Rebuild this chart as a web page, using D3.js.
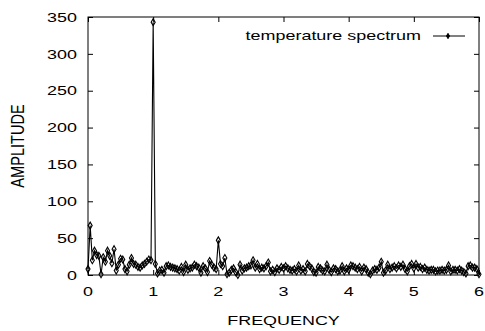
<!DOCTYPE html>
<html>
<head>
<meta charset="utf-8">
<script src="https://cdn.jsdelivr.net/npm/d3@7"></script>
<style>
  body { margin: 0; background: #fff; }
  text { font-family: "Liberation Sans", Arial, sans-serif; fill: #000; }
</style>
</head>
<body>
<div id="chart"></div>
<script>
// spectrum samples, one every 1/30 of a frequency unit
var freqStep = 1 / 30;
var band0 = [8, 67, 20, 33, 27, 26, 1, 24, 18, 33, 26, 16, 35, 6, 14, 22, 21, 8, 5, 14, 23, 15, 14, 11, 10, 13, 15, 18, 21, 20, 343];
var band1 = [15, 2, 6, 7, 3, 12, 13, 11, 10, 9, 8, 6, 11, 4, 14, 7, 9, 10, 14, 12, 10, 3, 12, 9, 4, 19, 14, 10, 8, 47];
var band2 = [15, 12, 23, 1, 3, 7, 9, 4, 0, 14, 6, 9, 10, 12, 13, 20, 10, 15, 8, 10, 9, 12, 17, 5, 7, 4, 9, 7, 11, 9];
var band3 = [12, 9, 7, 6, 8, 5, 13, 6, 8, 5, 15, 12, 9, 4, 3, 11, 9, 6, 5, 14, 7, 4, 9, 8, 5, 6, 12, 5, 9, 7];
var band4 = [13, 12, 10, 8, 11, 5, 10, 8, 3, 1, 6, 8, 7, 10, 18, 3, 6, 14, 8, 10, 12, 9, 13, 11, 14, 8, 5, 12, 15, 9];
var band5 = [15, 10, 11, 8, 10, 7, 6, 7, 7, 5, 6, 6, 7, 6, 7, 13, 5, 7, 7, 6, 8, 6, 4, 2, 12, 13, 10, 10, 8, 1];

var xTicks = [0, 1, 2, 3, 4, 5, 6];
var yTicks = [0, 50, 100, 150, 200, 250, 300, 350];

var amplitude = band0.concat(band1, band2, band3, band4, band5);
var data = amplitude.map(function(a, i) { return { f: i * freqStep, a: a }; });

var width = 485, height = 331;
var plotL = 88, plotR = 479, plotT = 17, plotB = 275;
var stretch = 1.38;   // text in the original is wider than it is tall
var fs = 13;

var svg = d3.select("#chart").append("svg")
    .attr("width", width)
    .attr("height", height);

var x = d3.scaleLinear().domain([0, 6]).range([plotL, plotR]);
var y = d3.scaleLinear().domain([0, 350]).range([plotB, plotT]);

// inward ticks on all four sides, gnuplot style
svg.append("g").attr("transform", "translate(0," + plotB + ")")
    .call(d3.axisBottom(x).tickValues(xTicks).tickSize(-5).tickFormat(""));
svg.append("g").attr("transform", "translate(0," + plotT + ")")
    .call(d3.axisTop(x).tickValues(xTicks).tickSize(-5).tickFormat(""));
svg.append("g").attr("transform", "translate(" + plotL + ",0)")
    .call(d3.axisLeft(y).tickValues(yTicks).tickSize(-5).tickFormat(""));
svg.append("g").attr("transform", "translate(" + plotR + ",0)")
    .call(d3.axisRight(y).tickValues(yTicks).tickSize(-5).tickFormat(""));
svg.selectAll(".domain").remove();
svg.selectAll(".tick line").attr("stroke", "#000");

svg.append("rect")
    .attr("x", plotL).attr("y", plotT)
    .attr("width", plotR - plotL).attr("height", plotB - plotT)
    .attr("fill", "none").attr("stroke", "#000");

// tick labels
svg.selectAll(".ylab").data(yTicks).enter().append("text")
    .attr("text-anchor", "end")
    .attr("font-size", fs)
    .attr("dy", "0.36em")
    .attr("transform", function(d) { return "translate(77," + y(d) + ") scale(" + stretch + ",1)"; })
    .text(function(d) { return d; });

svg.selectAll(".xlab").data(xTicks).enter().append("text")
    .attr("text-anchor", "middle")
    .attr("font-size", fs)
    .attr("transform", function(d) { return "translate(" + x(d) + ",295.5) scale(" + stretch + ",1)"; })
    .text(function(d) { return d; });

// axis titles
svg.append("text")
    .attr("text-anchor", "middle")
    .attr("font-size", fs)
    .attr("transform", "translate(" + ((plotL + plotR) / 2) + ",325) scale(" + stretch + ",1)")
    .text("FREQUENCY");

svg.append("text")
    .attr("text-anchor", "middle")
    .attr("font-size", fs)
    .attr("transform", "translate(24," + ((plotT + plotB) / 2) + ") rotate(-90) scale(1.12," + stretch + ")")
    .text("AMPLITUDE");

// the spectrum
var line = d3.line()
    .x(function(d) { return x(d.f); })
    .y(function(d) { return y(d.a); });

svg.append("path")
    .datum(data)
    .attr("d", line)
    .attr("fill", "none")
    .attr("stroke", "#000")
    .attr("stroke-width", 1.1);

var diamond = d3.symbol().type(d3.symbolDiamond).size(14);

svg.selectAll(".pt").data(data).enter().append("path")
    .attr("d", diamond)
    .attr("transform", function(d) { return "translate(" + x(d.f) + "," + y(d.a) + ")"; })
    .attr("fill", "none")
    .attr("stroke", "#000")
    .attr("stroke-width", 1.1);

// legend
svg.append("text")
    .attr("text-anchor", "end")
    .attr("font-size", fs)
    .attr("transform", "translate(421,40) scale(" + stretch + ",1)")
    .text("temperature spectrum");

svg.append("line")
    .attr("x1", 433).attr("x2", 465)
    .attr("y1", 36).attr("y2", 36)
    .attr("stroke", "#000");

svg.append("path")
    .attr("d", d3.symbol().type(d3.symbolDiamond).size(8))
    .attr("transform", "translate(448,36)")
    .attr("fill", "#000")
    .attr("stroke", "#000");
</script>
</body>
</html>
